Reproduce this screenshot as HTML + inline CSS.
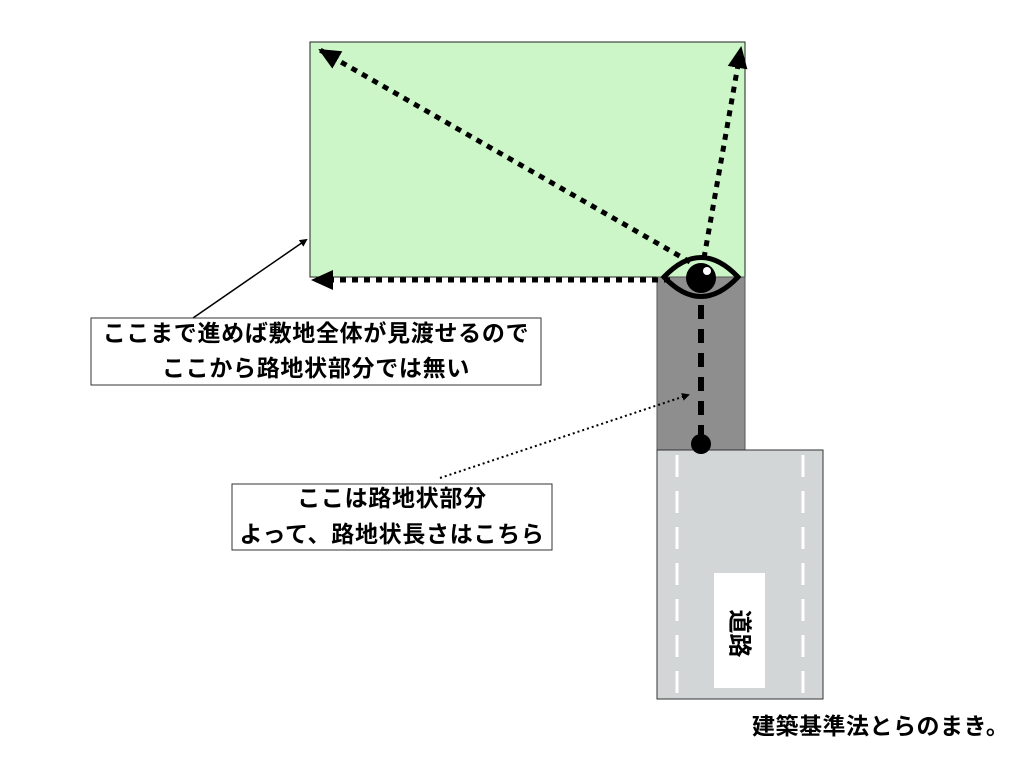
<!DOCTYPE html>
<html><head><meta charset="utf-8"><style>
body{margin:0;background:#fff;width:1024px;height:768px;overflow:hidden;font-family:"Liberation Sans","Noto Sans CJK JP",sans-serif}
.t{position:absolute;font-weight:bold;font-size:23px;color:#000;text-align:center;white-space:nowrap;letter-spacing:0.7px}
</style></head><body>
<svg width="1024" height="768" style="position:absolute;left:0;top:0">
<defs>
<marker id="a" markerWidth="8" markerHeight="8" refX="6" refY="4" orient="auto" markerUnits="userSpaceOnUse"><path d="M0,0 L8,4 L0,8z" fill="#000"/></marker>
<marker id="b" markerWidth="22" markerHeight="20" refX="20" refY="10" orient="auto" markerUnits="userSpaceOnUse"><path d="M0,0 L22,10 L0,20z" fill="#000"/></marker>
</defs>
<rect x="310" y="42" width="435" height="235" fill="#ccf5c8" stroke="#222" stroke-width="1"/>
<rect x="657" y="277" width="88" height="173" fill="#8e8e8e" stroke="#555" stroke-width="1"/>
<rect x="657" y="450" width="166" height="249" fill="#d3d6d7" stroke="#333" stroke-width="1"/>
<g stroke="#fff" stroke-width="3" stroke-dasharray="22,14">
<line x1="677" y1="455" x2="677" y2="695"/><line x1="803" y1="455" x2="803" y2="695"/></g>
<rect x="714" y="573" width="51" height="115" fill="#fff"/>
<g stroke="#000" stroke-width="5" stroke-dasharray="6,6" fill="none">
<line x1="690" y1="262" x2="320" y2="50" marker-end="url(#b)"/>
<line x1="704" y1="258" x2="741" y2="48" marker-end="url(#b)"/>
<line x1="670" y1="280" x2="313" y2="280" marker-end="url(#b)"/>
</g>
<line x1="701" y1="305" x2="701" y2="440" stroke="#000" stroke-width="6" stroke-dasharray="14,10"/>
<circle cx="701" cy="444" r="10" fill="#000"/>
<path d="M664,277 Q701,238 738,277 Q701,316 664,277z" fill="none" stroke="#000" stroke-width="5"/>
<circle cx="701" cy="278" r="15" fill="#000"/>
<circle cx="707" cy="271" r="4" fill="#fff"/>
<line x1="193" y1="318" x2="306" y2="240" stroke="#000" stroke-width="1.5" marker-end="url(#a)"/>
<line x1="440" y1="478" x2="688" y2="395" stroke="#000" stroke-width="2" stroke-dasharray="2,3" marker-end="url(#a)"/>
<rect x="91" y="318" width="450" height="67" fill="#fff" stroke="#333" stroke-width="1"/>
<rect x="232" y="484" width="320" height="66" fill="#fff" stroke="#333" stroke-width="1"/>
</svg>
<div class="t" style="left:91px;width:450px;top:316px;line-height:35px">ここまで進めば敷地全体が見渡せるので<br>ここから路地状部分では無い</div>
<div class="t" style="left:232px;width:320px;top:480px;line-height:36px">ここは路地状部分<br>よって、路地状長さはこちら</div>
<div class="t" style="left:712px;top:616px;width:60px;transform:rotate(90deg);font-size:24px;letter-spacing:0">道路</div>
<div class="t" style="left:752px;top:707px;font-size:23px;letter-spacing:0.5px">建築基準法とらのまき。</div>
</body></html>
